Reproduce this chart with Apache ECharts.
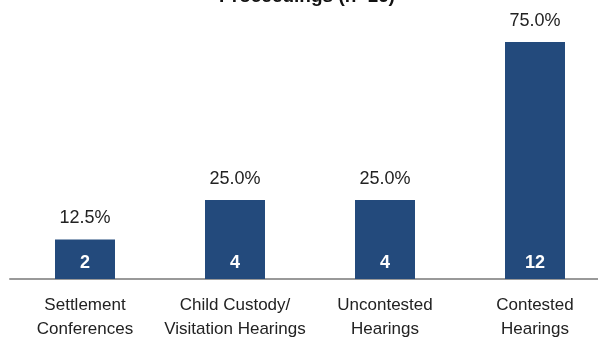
<!DOCTYPE html>
<html>
<head>
<meta charset="utf-8">
<script src="https://cdn.jsdelivr.net/npm/echarts@6/dist/echarts.min.js"></script>
<style>
  html, body { margin: 0; padding: 0; background: #fff; }
  #chart { width: 598px; height: 343px; }
</style>
</head>
<body>
<div id="chart"></div>
<script>
// data
var categories = ['Settlement\nConferences', 'Child Custody/\nVisitation Hearings', 'Uncontested\nHearings', 'Contested\nHearings']
var counts = [2, 4, 4, 12]
var pctLabels = ['12.5%', '25.0%', '25.0%', '75.0%']

var font = "'Liberation Sans Narrow', 'Arial Narrow', Arial, sans-serif"

var chart = echarts.init(document.getElementById('chart'))
var option = {
  animation: false,
  title: {
    text: 'Proceedings (n=16)',
    left: 302,
    textAlign: 'center',
    top: -18,
    textStyle: { fontFamily: 'Arial, sans-serif', fontSize: 19, fontWeight: 'bold', color: '#111' }
  },
  grid: { left: 10, right: -12, top: 42, bottom: 64, outerBoundsMode: 'none', containLabel: false },
  xAxis: {
    type: 'category',
    data: categories,
    axisLine: { lineStyle: { color: '#999', width: 2 } },
    axisTick: { show: false },
    axisLabel: { fontFamily: font, fontSize: 17, color: '#222', lineHeight: 24, margin: 14, interval: 0 }
  },
  yAxis: {
    type: 'value',
    min: 0,
    max: 12,
    show: false,
    splitLine: { show: false }
  },
  series: [
    {
      type: 'bar',
      data: counts,
      barWidth: 60,
      itemStyle: { color: '#234a7c' },
      label: {
        show: true,
        position: 'insideBottom',
        distance: 7,
        color: '#fff',
        fontFamily: font,
        fontSize: 18,
        fontWeight: 'bold'
      }
    },
    {
      // percentage labels sitting on top of the bars
      type: 'bar',
      data: counts,
      barWidth: 60,
      barGap: '-100%',
      itemStyle: { color: 'transparent' },
      label: {
        show: true,
        position: 'top',
        distance: 12,
        color: '#222',
        fontFamily: font,
        fontSize: 18,
        formatter: function (p) { return pctLabels[p.dataIndex] }
      },
      z: 1
    }
  ]
}
chart.setOption(option)
</script>
</body>
</html>
